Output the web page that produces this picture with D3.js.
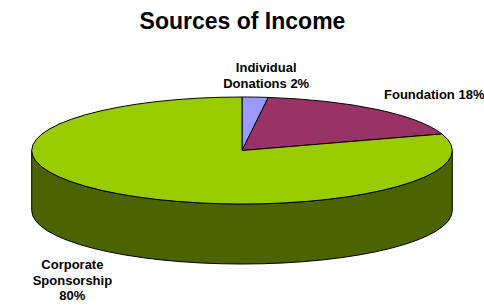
<!DOCTYPE html>
<html>
<head>
<meta charset="utf-8">
<script src="https://cdn.jsdelivr.net/npm/d3@7"></script>
<style>
  html, body { margin: 0; padding: 0; background: #fff; }
  text { font-family: "Liberation Sans", Arial, Helvetica, sans-serif; font-weight: bold; fill: #000; }
</style>
</head>
<body>
<svg id="chart" width="484" height="305"></svg>
<script>
"use strict";

//data

const categories = ["Individual Donations", "Foundation", "Corporate Sponsorship"];
const values = [2, 18, 80];
const labelLines = [["Individual", "Donations 2%"], ["Foundation 18%"], ["Corporate", "Sponsorship", "80%"]];

//styles

const topColors = ["#9999ff", "#993366", "#99cc00"];
const sideColors = ["#5c5c99", "#5c1f3d", "#4b6400"];

//layout

const W = 484, H = 305;
const cx = 242, cy = 150.5, rx = 210.3, ry = 53.5, depth = 60;
const labelNudge = [[11, -25, "middle"], [8, -10, "start"], [-46, 75, "middle"]];
const lineGap = 15.8;

const svg = d3.select("#chart");

svg.append("text")
  .attr("x", W / 2 + 0.5)
  .attr("y", 29)
  .attr("text-anchor", "middle")
  .style("font-size", "23px")
  .text("Sources of Income");

const pie = d3.pie().sort(null).value(d => d)(values);

// projection of an angle (clockwise from 12 o'clock) onto the ellipse
const sx = d3.scaleLinear().domain([-1, 1]).range([cx - rx, cx + rx]);
const sy = d3.scaleLinear().domain([-1, 1]).range([cy + ry, cy - ry]);
const pt = (a, dz = 0) => [sx(Math.sin(a)), sy(Math.cos(a)) + dz];

const arcTo = (a0, a1, dz, sweep) => {
  const [x, y] = pt(a1, dz);
  const large = Math.abs(a1 - a0) > Math.PI ? 1 : 0;
  return `A${rx},${ry} 0 ${large} ${sweep} ${x},${y}`;
};

//side walls (front half only: angles between PI/2 and 3PI/2)

const sides = svg.append("g");
pie.forEach((d, i) => {
  const a0 = Math.max(d.startAngle, Math.PI / 2);
  const a1 = Math.min(d.endAngle, Math.PI * 1.5);
  if (a1 <= a0) return;
  const p0 = pt(a0), p1 = pt(a1, depth);
  const path = `M${p0[0]},${p0[1]}` + arcTo(a0, a1, 0, 1) +
    `L${p1[0]},${p1[1]}` + arcTo(a1, a0, depth, 0) + "Z";
  sides.append("path")
    .attr("d", path)
    .attr("fill", sideColors[i])
    .attr("stroke", "#000")
    .attr("stroke-width", 1)
    .attr("stroke-linejoin", "round");
});

//top slices

const tops = svg.append("g");
pie.forEach((d, i) => {
  const p0 = pt(d.startAngle);
  const path = `M${cx},${cy}L${p0[0]},${p0[1]}` + arcTo(d.startAngle, d.endAngle, 0, 1) + "Z";
  tops.append("path")
    .attr("d", path)
    .attr("fill", topColors[i])
    .attr("stroke", "#000")
    .attr("stroke-width", 1)
    .attr("stroke-linejoin", "round");
});

//labels

const labels = svg.append("g").style("font-size", "13px");
pie.forEach((d, i) => {
  const mid = (d.startAngle + d.endAngle) / 2;
  const [x, y] = pt(mid);
  const [dx, dy, anchor] = labelNudge[i];
  const t = labels.append("text")
    .attr("text-anchor", anchor)
    .attr("x", x + dx)
    .attr("y", y + dy);
  labelLines[i].forEach((line, j) => {
    t.append("tspan")
      .attr("x", x + dx)
      .attr("dy", j === 0 ? 0 : lineGap)
      .text(line);
  });
});
</script>
</body>
</html>
